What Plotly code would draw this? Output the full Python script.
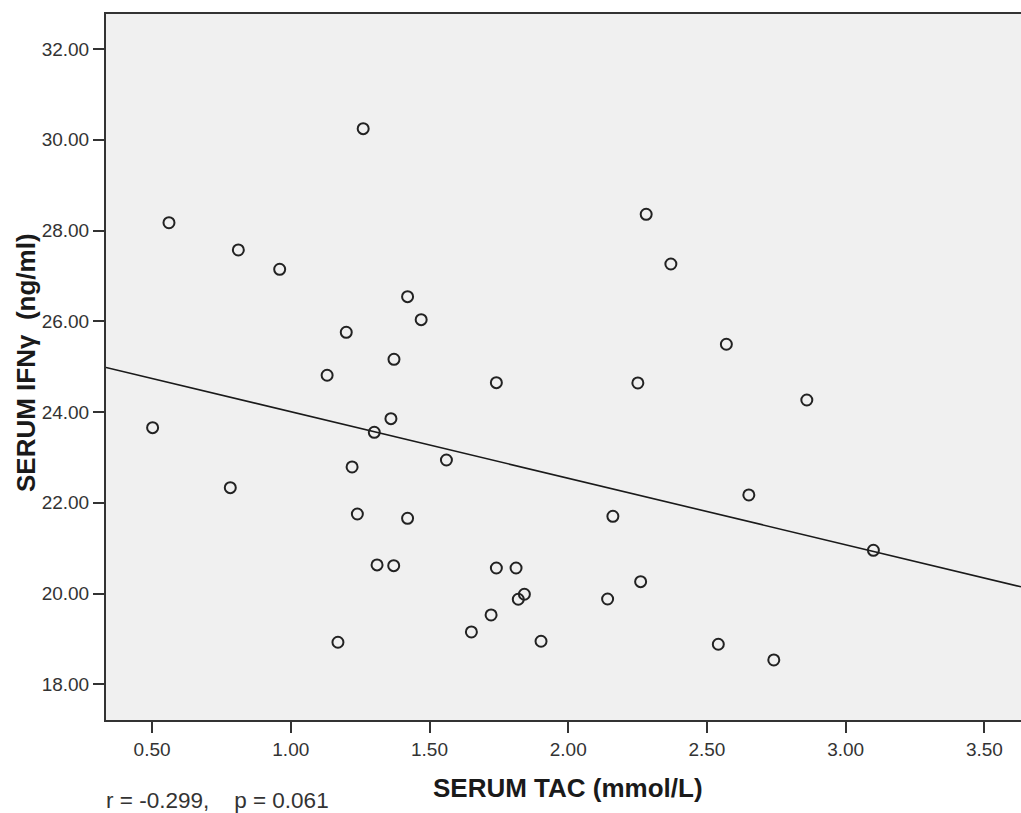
import numpy as np
import plotly.graph_objects as go

# Data
serum_tac = [1.261, 0.561, 0.811, 0.960, 1.421, 1.470, 1.200, 1.372, 1.131, 1.741,
             1.361, 1.301, 1.221, 1.561, 1.240, 1.421, 1.311, 1.371, 1.741, 1.812,
             1.842, 1.820, 1.722, 1.651, 1.170, 1.902, 2.281, 2.370, 2.570, 2.251,
             2.860, 2.651, 2.161, 3.100, 2.261, 2.142, 2.541, 2.741, 0.502, 0.782]
serum_ifng = [30.244, 28.172, 27.571, 27.145, 26.542, 26.035, 25.757, 25.162, 24.810, 24.647,
              23.853, 23.553, 22.789, 22.943, 21.753, 21.658, 20.630, 20.614, 20.563, 20.563,
              19.984, 19.874, 19.528, 19.153, 18.926, 18.948, 28.357, 27.262, 25.493, 24.640,
              24.265, 22.172, 21.702, 20.953, 20.262, 19.880, 18.882, 18.536, 23.655, 22.333]

x_ticks = [0.5, 1.0, 1.5, 2.0, 2.5, 3.0, 3.5]
y_ticks = [18, 20, 22, 24, 26, 28, 30, 32]
x_range = [0.334, 3.632]
y_range = [17.213, 32.771]

x_title = "SERUM TAC (mmol/L)"
y_title = "SERUM IFNγ  (ng/ml)"
stats_text = "r = -0.299,    p = 0.061"

W, H = 1021, 813
L, R, T, B = 106, 0, 14, 93

slope, intercept = np.polyfit(serum_tac, serum_ifng, 1)
line_x = np.array(x_range)
line_y = slope * line_x + intercept

fig = go.Figure()
fig.add_trace(go.Scatter(
    x=line_x, y=line_y, mode="lines",
    line=dict(color="#1a1a1a", width=1.6),
    hoverinfo="skip", showlegend=False))
fig.add_trace(go.Scatter(
    x=serum_tac, y=serum_ifng, mode="markers",
    marker=dict(symbol="circle-open", size=11, color="#222222", line=dict(width=2)),
    showlegend=False))

axis_font = dict(family="Arial, Liberation Sans, sans-serif", size=19, color="#333333")

fig.update_xaxes(
    range=x_range, tickvals=x_ticks, ticktext=[f"{v:.2f}" for v in x_ticks],
    showgrid=False, zeroline=False, showline=True, linecolor="#333333", linewidth=2,
    mirror=True, ticks="outside", ticklen=11, tickwidth=2, tickcolor="#333333",
    tickfont=axis_font)
fig.update_yaxes(
    range=y_range, tickvals=y_ticks, ticktext=[f"{v:.2f}" for v in y_ticks],
    showgrid=False, zeroline=False, showline=True, linecolor="#333333", linewidth=2,
    ticks="outside", ticklen=11, tickwidth=2, tickcolor="#333333",
    tickfont=axis_font)

pw = W - L - R
ph = H - T - B

def px(xp):
    return (xp - L) / pw

def py(yp):
    return (H - B - yp) / ph

title_font = dict(family="Arial, Liberation Sans, sans-serif", size=26, color="#1a1a1a")

fig.update_layout(
    width=W, height=H,
    margin=dict(l=L, r=R, t=T, b=B),
    plot_bgcolor="#f0f0f0", paper_bgcolor="white",
    annotations=[
        dict(text=f"<b>{x_title}</b>", xref="paper", yref="paper",
             x=px(568), y=py(788), xanchor="center", yanchor="middle",
             showarrow=False, font=title_font),
        dict(text=f"<b>{y_title}</b>", xref="paper", yref="paper",
             x=px(26), y=py(363), xanchor="center", yanchor="middle",
             textangle=-90, showarrow=False, font=title_font),
        dict(text=stats_text, xref="paper", yref="paper",
             x=px(104), y=py(800), xanchor="left", yanchor="middle",
             showarrow=False,
             font=dict(family="Arial, Liberation Sans, sans-serif", size=22.5, color="#333333")),
    ],
)

fig.write_html(
    "out.html",
    config={"displayModeBar": False},
    post_script="document.body.style.margin='0';document.body.style.overflow='hidden';",
)
